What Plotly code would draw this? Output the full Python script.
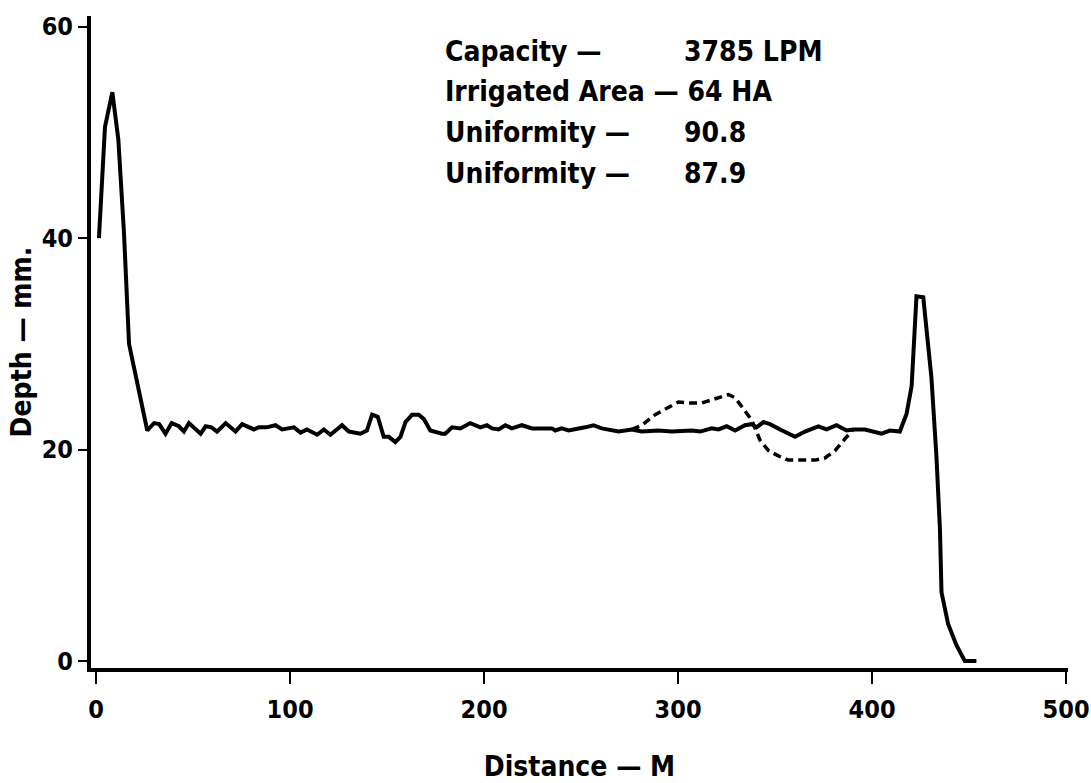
import plotly.graph_objects as go

# Solid curve (measured distribution)
dist_solid = [1.5, 4.6, 8.4, 11.5, 14.4, 17, 26.4, 29.9, 32.5, 35.8, 39, 42.7, 45.3, 47.9,
              53.9, 56.5, 59.5, 62.4, 66.8, 71.9, 75.3, 81.4, 83.9, 88, 92.5, 95.9, 99, 102,
              105.4, 108.7, 114, 117.4, 120.8, 126.8, 130.3, 136.3, 139.6, 142.3, 145.2, 148.3,
              150.9, 154.3, 156.9, 159.5, 162.9, 166.3, 168.9, 172.3, 178.3, 180, 183.5, 187.8,
              192.9, 198.1, 201.5, 204.1, 207.5, 211, 214.4, 219.5, 224.7, 235, 236.7, 240,
              243.6, 247.7, 252.1, 256.4, 260.7, 269.3, 276.2, 281.3, 289.9, 296.8, 307.1, 311.4,
              317.3, 320.8, 325.1, 329.4, 334.5, 337.9, 340.5, 344, 347.4, 352.6, 360.3, 365.4,
              372.3, 376.6, 381.7, 386.9, 390.3, 396.3, 398.9, 404.9, 409.2, 414.3, 417.8, 420.4,
              422.9, 426.4, 430.6, 433.2, 435, 435.8, 439.2, 443.5, 447.8, 453.8]
depth_solid = [40.0, 50.5, 53.8, 49.3, 40.5, 30.0, 21.8, 22.5, 22.4, 21.5, 22.5, 22.2, 21.7, 22.5,
               21.5, 22.2, 22.1, 21.7, 22.5, 21.7, 22.4, 21.9, 22.1, 22.1, 22.3, 21.9, 22.0, 22.1,
               21.6, 21.9, 21.4, 21.9, 21.4, 22.3, 21.7, 21.5, 21.8, 23.3, 23.1, 21.2,
               21.2, 20.7, 21.2, 22.6, 23.3, 23.3, 22.9, 21.8, 21.5, 21.5, 22.1, 22.0,
               22.5, 22.1, 22.3, 22.0, 21.9, 22.3, 22.0, 22.3, 22.0, 22.0, 21.8, 22.0,
               21.8, 21.9, 22.1, 22.3, 22.0, 21.7, 21.9, 21.7, 21.8, 21.7, 21.8, 21.7,
               22.0, 21.9, 22.2, 21.8, 22.3, 22.4, 22.1, 22.6, 22.4, 21.9, 21.2, 21.7,
               22.2, 21.9, 22.3, 21.8, 21.9, 21.9, 21.8, 21.5, 21.8, 21.7, 23.4, 26.0,
               34.5, 34.4, 26.8, 19.3, 12.4, 6.5, 3.5, 1.5, 0.0, 0.0]

# Dashed curve (alternative distribution, differs only where shown)
dist_dashed = [276.2, 281.3, 288.2, 294.2, 300.2, 305.4, 312.2, 319.1, 326, 329.4, 334.5, 337.9,
               339.7, 342.2, 346.6, 351.7, 356.8, 363.7, 370.6, 375.7, 380.9, 386, 390.3]
depth_dashed = [21.9, 22.3, 23.3, 23.9, 24.5, 24.4, 24.4, 24.8, 25.2, 24.9, 23.7, 22.8,
                22.0, 20.9, 19.9, 19.4, 19.0, 19.0, 19.0, 19.2, 19.9, 21.0, 21.9]

x_ticks = [0, 100, 200, 300, 400, 500]
y_ticks = [0, 20, 40, 60]

info_labels = ["Capacity \u2014", "Irrigated Area \u2014 64 HA", "Uniformity \u2014", "Uniformity \u2014"]
info_values = ["3785 LPM", "", "90.8", "87.9"]

FONT = "DejaVu Sans Condensed, Liberation Sans, Arial, sans-serif"

fig = go.Figure()
fig.add_trace(go.Scatter(x=dist_dashed, y=depth_dashed, mode="lines",
                         line=dict(color="black", width=3.5, dash="8px,5px"),
                         showlegend=False, hoverinfo="skip"))
fig.add_trace(go.Scatter(x=dist_solid, y=depth_solid, mode="lines",
                         line=dict(color="black", width=4),
                         showlegend=False, hoverinfo="skip"))

label_y = [57.6, 53.9, 50.0, 46.1]
for lab, val, yy in zip(info_labels, info_values, label_y):
    fig.add_annotation(x=179, y=yy, xref="x", yref="y", text=lab, showarrow=False,
                       xanchor="left", yanchor="middle",
                       font=dict(family=FONT, size=28, color="black", weight="bold"))
    if val:
        fig.add_annotation(x=302, y=yy, xref="x", yref="y", text=val, showarrow=False,
                           xanchor="left", yanchor="middle",
                           font=dict(family=FONT, size=28, color="black", weight="bold"))

fig.update_layout(
    width=1091, height=783,
    margin=dict(l=91, r=23, t=16, b=115),
    paper_bgcolor="white", plot_bgcolor="white",
    font=dict(family=FONT, size=25, color="black", weight="bold"),
    xaxis=dict(range=[-2.6, 501], tickvals=x_ticks, ticks="outside", ticklen=12,
               tickwidth=1.5, tickcolor="black", showline=True, linewidth=4,
               linecolor="black", showgrid=False, zeroline=False, automargin=False,
               ticklabeloverflow="allow", tickfont=dict(size=25), ticklabelstandoff=4,
               title=dict(text="Distance \u2014 M", standoff=49,
                          font=dict(family=FONT, size=28, weight="bold"))),
    yaxis=dict(range=[-0.66, 61.0], tickvals=y_ticks, ticks="outside", ticklen=9,
               tickwidth=1.5, tickcolor="black", showline=True, linewidth=4,
               linecolor="black", showgrid=False, zeroline=False, automargin=False,
               ticklabeloverflow="allow", tickfont=dict(size=25),
               title=dict(text="Depth \u2014 mm.", standoff=3,
                          font=dict(family=FONT, size=28, weight="bold"))),
)

# remove the default page margin so the figure fills the window exactly
fig.write_html("out.html", config={"displayModeBar": False},
               post_script="document.body.style.margin='0';document.body.style.overflow='hidden';")
